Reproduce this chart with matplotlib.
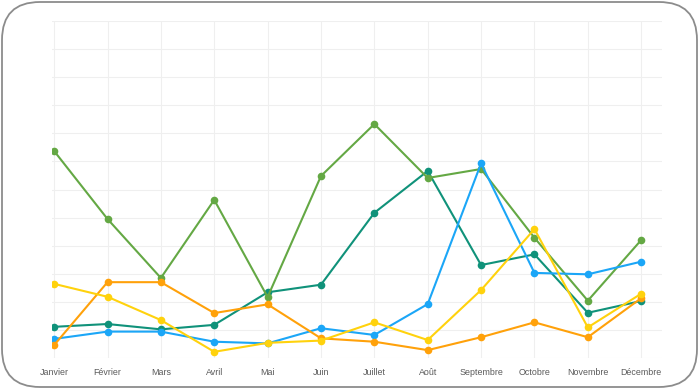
import matplotlib.pyplot as plt
from matplotlib.patches import FancyBboxPatch

# Data (arbitrary units, gridline = 1)
months = ['Janvier', 'Février', 'Mars', 'Avril', 'Mai', 'Juin', 'Juillet',
          'Août', 'Septembre', 'Octobre', 'Novembre', 'Décembre']
teal = [1.11, 1.21, 1.02, 1.18, 2.34, 2.61, 5.17, 6.66, 3.31, 3.69, 1.61, 2.03]
green = [7.37, 4.95, 2.85, 5.63, 2.17, 6.48, 8.33, 6.41, 6.73, 4.28, 2.04, 4.20]
blue = [0.68, 0.94, 0.94, 0.58, 0.52, 1.06, 0.82, 1.92, 6.93, 3.03, 2.98, 3.43]
orange = [0.46, 2.70, 2.70, 1.60, 1.91, 0.70, 0.58, 0.28, 0.74, 1.27, 0.74, 2.13]
yellow = [2.64, 2.18, 1.35, 0.22, 0.54, 0.62, 1.27, 0.64, 2.42, 4.59, 1.09, 2.29]

series = [
    (teal, '#10927a'),
    (green, '#64a844'),
    (blue, '#1ba6f7'),
    (orange, '#ffa10a'),
    (yellow, '#ffd20d'),
]

fig = plt.figure(figsize=(7, 3.89), dpi=100)
fig.patch.set_facecolor('white')

# rounded frame around the whole card
frame = FancyBboxPatch((0.02, 0.02), 6.95, 3.85,
                       boxstyle='round,pad=0,rounding_size=0.38',
                       transform=fig.dpi_scale_trans, facecolor='none',
                       edgecolor='#8c8c8c', linewidth=1.3)
fig.patches.append(frame)

ax = fig.add_axes([52 / 700, 31 / 389, 610 / 700, 337 / 389])
x = list(range(len(months)))
for vals, col in series:
    ax.plot(x, vals, color=col, linewidth=1.5, marker='o', markersize=5.5,
            markeredgewidth=0, zorder=3)

ax.set_xlim(-0.04, 11.39)
ax.set_ylim(0, 12)
ax.set_xticks(x)
ax.set_xticklabels(months, fontsize=6.4, color='#5a5a5a', family='Liberation Sans')
ax.set_yticks(range(13))
ax.set_yticklabels([])
ax.tick_params(length=0, pad=7)
ax.grid(True, color='#efefef', linewidth=0.8, zorder=0)
for s in ax.spines.values():
    s.set_visible(False)

fig.savefig('out.png', dpi=100)
